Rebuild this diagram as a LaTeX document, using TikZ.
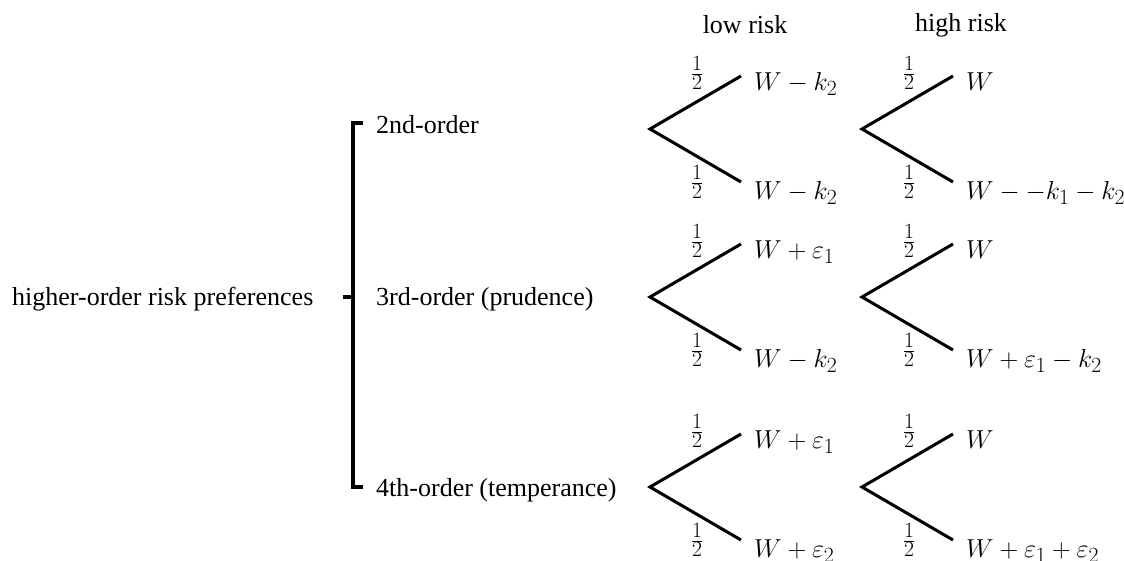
\documentclass[tikz,border=0pt]{standalone}
\usepackage{fontspec}
\setmainfont{Liberation Serif}
\tikzset{
  branch/.style={line width=2.9pt, line cap=butt},
  brk/.style={line width=2.9pt},
  txt/.style={font=\Huge, inner sep=0pt},
  outc/.style={font=\Huge, inner sep=0pt, anchor=base west},
  prob/.style={font=\Huge, inner sep=0pt}
}
\newcommand\lottree[5]{%
  \coordinate (#1a) at (#2,#3);
  \coordinate (#1t) at ({#2+91},{#3-53});
  \coordinate (#1b) at ({#2+91},{#3+53});
  \draw[branch] (#1t) -- (#1a) -- (#1b);
  \node[prob] (#1pt) at ({#2+47},{#3-56}) {$\frac12$};
  \node[prob] (#1pb) at ({#2+47},{#3+53}) {$\frac12$};
  \node[outc] (#1ot) at ({#2+104},{#3-53+14}) {$#4$};
  \node[outc] (#1ob) at ({#2+104},{#3+53+17}) {$#5$};
}
\begin{document}
\begin{tikzpicture}[x=0.957pt,y=-0.957pt]
\useasboundingbox (0,0) rectangle (1124,560);
% column headers
\node[txt] (low) at (745,25) {low risk};
\node[txt] (high) at (961,25) {high risk};
% left labels
\node[txt, anchor=base west] (hrp) at (12,305) {higher-order risk preferences};
\node[txt, anchor=base west] (o2) at (376,133) {2nd-order};
\node[txt, anchor=base west] (o3) at (376,305) {3rd-order (prudence)};
\node[txt, anchor=base west] (o4) at (376,496) {4th-order (temperance)};
% bracket
\coordinate (bt) at (363,123);
\coordinate (bb) at (363,487);
\coordinate (bm) at (343,297);
\draw[brk] (bt) -- (353,123) -- (353,487) -- (bb);
\draw[brk] (bm) -- (353,297);
% trees
\lottree{r1l}{650}{129}{W - k_2}{W - k_2}
\lottree{r1h}{862}{129}{W}{W - -k_1 - k_2}
\lottree{r2l}{650}{297}{W + \varepsilon_1}{W - k_2}
\lottree{r2h}{862}{297}{W}{W + \varepsilon_1 - k_2}
\lottree{r3l}{650}{487}{W + \varepsilon_1}{W + \varepsilon_2}
\lottree{r3h}{862}{487}{W}{W + \varepsilon_1 + \varepsilon_2}
\end{tikzpicture}
\end{document}
